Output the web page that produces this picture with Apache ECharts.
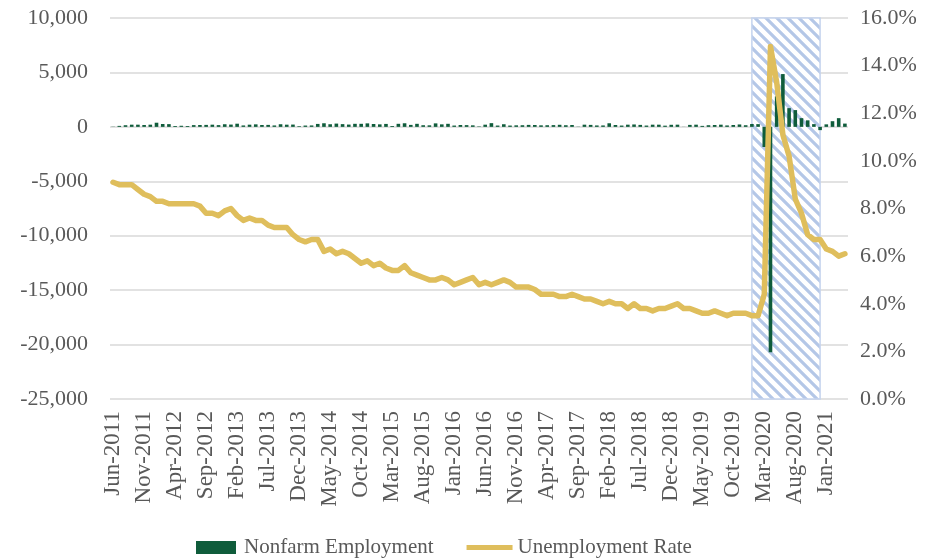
<!DOCTYPE html>
<html>
<head>
<meta charset="utf-8">
<script src="https://cdn.jsdelivr.net/npm/echarts@6/dist/echarts.min.js"></script>
<style>html,body{margin:0;padding:0;background:#fff;}#chart{width:933px;height:558px;}</style>
</head>
<body>
<div id="chart"></div>
<script>
const categories = [
 'Jun-2011','Jul-2011','Aug-2011','Sep-2011','Oct-2011','Nov-2011','Dec-2011',
 'Jan-2012','Feb-2012','Mar-2012','Apr-2012','May-2012','Jun-2012','Jul-2012','Aug-2012','Sep-2012','Oct-2012','Nov-2012','Dec-2012',
 'Jan-2013','Feb-2013','Mar-2013','Apr-2013','May-2013','Jun-2013','Jul-2013','Aug-2013','Sep-2013','Oct-2013','Nov-2013','Dec-2013',
 'Jan-2014','Feb-2014','Mar-2014','Apr-2014','May-2014','Jun-2014','Jul-2014','Aug-2014','Sep-2014','Oct-2014','Nov-2014','Dec-2014',
 'Jan-2015','Feb-2015','Mar-2015','Apr-2015','May-2015','Jun-2015','Jul-2015','Aug-2015','Sep-2015','Oct-2015','Nov-2015','Dec-2015',
 'Jan-2016','Feb-2016','Mar-2016','Apr-2016','May-2016','Jun-2016','Jul-2016','Aug-2016','Sep-2016','Oct-2016','Nov-2016','Dec-2016',
 'Jan-2017','Feb-2017','Mar-2017','Apr-2017','May-2017','Jun-2017','Jul-2017','Aug-2017','Sep-2017','Oct-2017','Nov-2017','Dec-2017',
 'Jan-2018','Feb-2018','Mar-2018','Apr-2018','May-2018','Jun-2018','Jul-2018','Aug-2018','Sep-2018','Oct-2018','Nov-2018','Dec-2018',
 'Jan-2019','Feb-2019','Mar-2019','Apr-2019','May-2019','Jun-2019','Jul-2019','Aug-2019','Sep-2019','Oct-2019','Nov-2019','Dec-2019',
 'Jan-2020','Feb-2020','Mar-2020','Apr-2020','May-2020','Jun-2020','Jul-2020','Aug-2020','Sep-2020','Oct-2020','Nov-2020','Dec-2020',
 'Jan-2021','Feb-2021','Mar-2021','Apr-2021'
];
// Nonfarm employment, monthly change (thousands)
const nonfarmEmployment = [
 20, 90, 150, 200, 200, 170, 200,
 380, 260, 250, 80, 100, 80, 160, 170, 180, 200, 160, 240,
 210, 290, 130, 200, 230, 170, 180, 130, 240, 200, 210, 60,
 120, 130, 270, 330, 240, 300, 250, 210, 280, 280, 320, 260,
 230, 270, 80, 280, 330, 180, 280, 150, 140, 320, 230, 280,
 120, 170, 160, 140, 40, 200, 340, 120, 240, 120, 140, 150,
 180, 170, 140, 150, 160, 190, 150, 170, 20, 200, 180, 130,
 130, 330, 170, 120, 200, 220, 180, 120, 200, 200, 110, 190,
 200, 10, 180, 200, 90, 150, 170, 200, 130, 170, 220, 150,
 260, 250, -1850, -20700, 2800, 4850, 1720, 1540, 800, 600, 250, -300,
 230, 520, 800, 300
];
// Unemployment rate (%)
const unemploymentRate = [
 9.1, 9.0, 9.0, 9.0, 8.8, 8.6, 8.5,
 8.3, 8.3, 8.2, 8.2, 8.2, 8.2, 8.2, 8.1, 7.8, 7.8, 7.7, 7.9,
 8.0, 7.7, 7.5, 7.6, 7.5, 7.5, 7.3, 7.2, 7.2, 7.2, 6.9, 6.7,
 6.6, 6.7, 6.7, 6.2, 6.3, 6.1, 6.2, 6.1, 5.9, 5.7, 5.8, 5.6,
 5.7, 5.5, 5.4, 5.4, 5.6, 5.3, 5.2, 5.1, 5.0, 5.0, 5.1, 5.0,
 4.8, 4.9, 5.0, 5.1, 4.8, 4.9, 4.8, 4.9, 5.0, 4.9, 4.7, 4.7,
 4.7, 4.6, 4.4, 4.4, 4.4, 4.3, 4.3, 4.4, 4.3, 4.2, 4.2, 4.1,
 4.0, 4.1, 4.0, 4.0, 3.8, 4.0, 3.8, 3.8, 3.7, 3.8, 3.8, 3.9,
 4.0, 3.8, 3.8, 3.7, 3.6, 3.6, 3.7, 3.6, 3.5, 3.6, 3.6, 3.6,
 3.5, 3.5, 4.4, 14.8, 13.3, 11.1, 10.2, 8.4, 7.8, 6.9, 6.7, 6.7,
 6.3, 6.2, 6.0, 6.1
];
const shadedStart = 'Jan-2020';
const shadedEnd = 'Dec-2020';
const leftAxisTicks = { min: -25000, max: 10000, interval: 5000 };
const rightAxisTicks = { min: 0, max: 16, interval: 2 };

function makeHatch() {
  const s = 11;
  const c = document.createElement('canvas');
  c.width = s; c.height = s;
  const g = c.getContext('2d');
  g.fillStyle = '#ffffff';
  g.fillRect(0, 0, s, s);
  g.strokeStyle = '#b4c7e7';
  g.lineWidth = 3.2;
  g.beginPath();
  for (let k = -1; k <= 1; k++) {
    g.moveTo(k * s - 2, -2);
    g.lineTo(k * s + s + 2, s + 2);
  }
  g.stroke();
  return c;
}

const FONT = '"Liberation Serif", "Times New Roman", serif';
const TXT = '#595959';
const chart = echarts.init(document.getElementById('chart'));
chart.setOption({
  animation: false,
  grid: { left: 110, right: 85, top: 18, bottom: 159, containLabel: false },
  legend: {
    left: 191, top: 532,
    itemWidth: 46, itemHeight: 13, itemGap: 33,
    textStyle: { fontFamily: FONT, fontSize: 21, color: TXT },
    data: [
      { name: 'Nonfarm Employment', icon: 'path://M0,0h40v13h-40z' },
      { name: 'Unemployment Rate', icon: 'path://M0,0h46v5h-46z' }
    ]
  },
  xAxis: {
    type: 'category',
    data: categories,
    boundaryGap: true,
    axisLine: { show: false },
    axisTick: { show: false },
    axisLabel: {
      interval: 4, rotate: 90, margin: 12,
      fontFamily: FONT, fontSize: 23, color: TXT
    }
  },
  yAxis: [
    {
      type: 'value',
      min: leftAxisTicks.min, max: leftAxisTicks.max, interval: leftAxisTicks.interval,
      axisLine: { show: false }, axisTick: { show: false },
      splitLine: { lineStyle: { color: '#d9d9d9', width: 1.5 } },
      axisLabel: {
        margin: 22, fontFamily: FONT, fontSize: 22, color: TXT,
        formatter: v => (v < 0 ? '-' : '') + Math.abs(v).toString().replace(/\B(?=(\d{3})+(?!\d))/g, ',')
      }
    },
    {
      type: 'value',
      min: rightAxisTicks.min, max: rightAxisTicks.max, interval: rightAxisTicks.interval,
      axisLine: { show: false }, axisTick: { show: false },
      splitLine: { show: false },
      axisLabel: {
        margin: 12, fontFamily: FONT, fontSize: 22, color: TXT,
        formatter: v => v.toFixed(1) + '%'
      }
    }
  ],
  series: [
    {
      name: 'Nonfarm Employment',
      type: 'bar',
      data: nonfarmEmployment,
      yAxisIndex: 0,
      barWidth: '58%',
      itemStyle: { color: '#0f5c3b' },
      z: 2
    },
    {
      name: 'Unemployment Rate',
      type: 'line',
      data: unemploymentRate,
      yAxisIndex: 1,
      symbol: 'none',
      lineStyle: { color: '#dfbe5c', width: 5.5, join: 'round', cap: 'round' },
      itemStyle: { color: '#dfbe5c' },
      z: 3,
      markArea: {
        silent: true,
        z: 1,
        label: { show: false },
        itemStyle: {
          color: { image: makeHatch(), repeat: 'repeat' },
          opacity: 1,
          borderColor: '#c5d4ee',
          borderWidth: 1.5
        },
        data: [[
          { xAxis: shadedStart, yAxis: rightAxisTicks.max },
          { xAxis: shadedEnd, yAxis: rightAxisTicks.min }
        ]]
      }
    }
  ]
});
</script>
</body>
</html>
